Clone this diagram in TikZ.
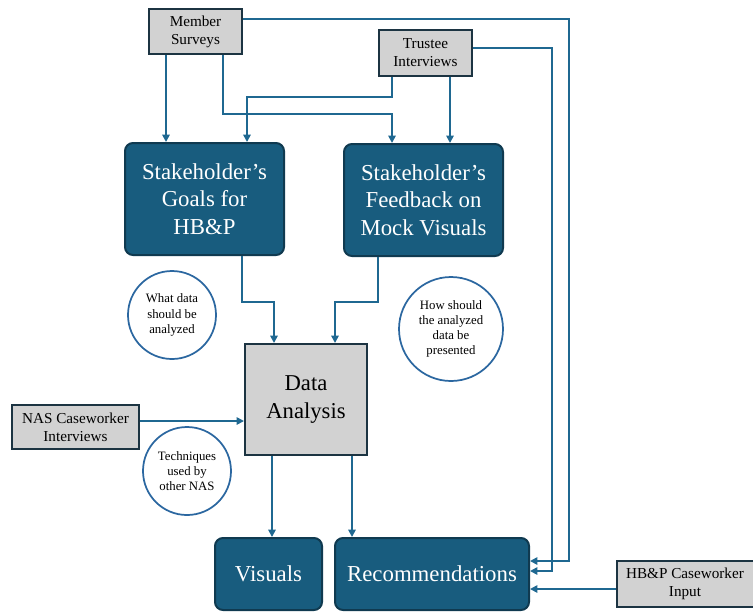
\documentclass[tikz,border=0pt]{standalone}
\usepackage{fontspec}
\setmainfont{Liberation Serif}
\usetikzlibrary{arrows.meta,calc}
\definecolor{darkbox}{RGB}{24,92,126}
\definecolor{darkedge}{RGB}{16,58,80}
\definecolor{linecol}{RGB}{31,104,145}
\definecolor{circcol}{RGB}{43,103,160}
\definecolor{greyfill}{RGB}{210,210,210}
\definecolor{greyedge}{RGB}{28,52,66}
\tikzset{
  darkbox/.style={draw=darkedge, line width=1.5pt, fill=darkbox, rounded corners=6pt, text=white, align=center, inner sep=0pt, font=\fontsize{17.1}{20.6}\selectfont},
  greybox/.style={draw=greyedge, line width=1.5pt, fill=greyfill, text=black, align=center, inner sep=0pt, font=\fontsize{11.4}{13.5}\selectfont},
  bigbox/.style={draw=greyedge, line width=1.5pt, fill=greyfill, text=black, align=center, inner sep=0pt, font=\fontsize{17}{20.3}\selectfont},
  note/.style={draw=circcol, line width=1.3pt, fill=white, circle, align=center, inner sep=0pt, font=\fontsize{9.6}{11.3}\selectfont},
  arr/.style={draw=linecol, line width=1.3pt, -{Triangle[length=5.5pt,width=5.5pt]}},
}
\begin{document}
\begin{tikzpicture}[x=0.75pt,y=-0.75pt]
\useasboundingbox (0,0) rectangle (753,611);
% nodes
\node[greybox, minimum width=69.75pt, minimum height=33.75pt] (ms) at (195.5,31.5) {Member\\Surveys};
\node[greybox, minimum width=69.75pt, minimum height=34.5pt] (ti) at (425.5,53) {Trustee\\Interviews};
\node[darkbox, minimum width=119.25pt, minimum height=84pt] (goals) at (204.5,199) {Stakeholder’s\\Goals for\\HB\&P};
\node[darkbox, minimum width=119.25pt, minimum height=84pt] (fb) at (423.5,200) {Stakeholder’s\\Feedback on\\Mock Visuals};
\node[bigbox, minimum width=91.5pt, minimum height=83.25pt] (da) at (306,399.5) {Data\\Analysis};
\node[greybox, minimum width=95.25pt, minimum height=33pt] (nas) at (75.5,427) {NAS Caseworker\\Interviews};
\node[darkbox, minimum width=80.25pt, minimum height=54pt] (vis) at (268.5,574) {Visuals};
\node[darkbox, minimum width=145.5pt, minimum height=54pt] (recs) at (432,574) {Recommendations};
\node[greybox, minimum width=102.75pt, minimum height=34.5pt] (hbp) at (685,584) {HB\&P Caseworker\\Input};
\node[note, minimum size=66pt] (what) at (172,315) {What data\\should be\\analyzed};
\node[note, minimum size=66pt] (tech) at (187,471) {Techniques\\used by\\other NAS};
\node[note, minimum size=78pt] (how) at (451,329) {How should\\the analyzed\\data be\\presented};
% connectors
\draw[arr] (166,0 |- ms.south) -- (166,0 |- goals.north);
\draw[arr] (223,0 |- ms.south) -- (223,114) -- (392,114) -- (392,0 |- fb.north);
\draw[arr] (392,0 |- ti.south) -- (392,97) -- (247,97) -- (247,0 |- goals.north);
\draw[arr] (450,0 |- ti.south) -- (450,0 |- fb.north);
\draw[arr] (ms.east |- 0,19) -- (569,19) -- (569,561) -- (recs.east |- 0,561);
\draw[arr] (ti.east |- 0,48) -- (552,48) -- (552,571) -- (recs.east |- 0,571);
\draw[arr] (hbp.west |- 0,589) -- (recs.east |- 0,589);
\draw[arr] (242,0 |- goals.south) -- (242,302) -- (274,302) -- (274,0 |- da.north);
\draw[arr] (378,0 |- fb.south) -- (378,302) -- (335,302) -- (335,0 |- da.north);
\draw[arr] (nas.east |- 0,421) -- (da.west |- 0,421);
\draw[arr] (272,0 |- da.south) -- (272,0 |- vis.north);
\draw[arr] (352,0 |- da.south) -- (352,0 |- recs.north);
\end{tikzpicture}
\end{document}
